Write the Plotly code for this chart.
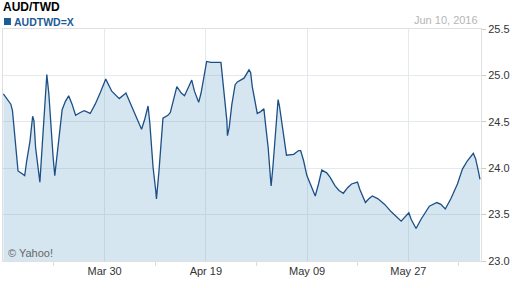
import plotly.graph_objects as go

# Trading-day position and AUD/TWD close values
day = [0.0, 0.58, 1.03, 1.26, 1.40, 1.72, 2.03, 2.40, 2.95, 3.23, 3.68, 4.05, 4.23, 4.46, 4.83,
       5.05, 5.24, 5.60, 5.83, 6.01, 6.29, 6.52, 6.89, 7.11, 7.44, 7.80, 8.13, 8.58, 9.03, 9.50,
       9.99, 10.64, 11.19, 12.01, 12.70, 13.38, 14.16, 14.99, 16.03, 16.95, 17.50, 18.42, 19.11,
       19.56, 20.01, 20.25, 20.70, 21.07, 21.17, 21.52, 21.85, 22.07, 22.76, 23.09, 23.44, 23.99,
       24.60, 25.05, 25.64, 26.05, 26.42, 27.01, 27.34, 27.70, 28.11, 28.71, 30.09, 30.31, 30.68,
       30.91, 30.99, 31.23, 31.60, 32.05, 32.36, 33.05, 33.28, 33.97, 34.20, 34.42, 34.79, 35.11,
       35.58, 36.03, 36.26, 36.62, 36.95, 37.03, 37.27, 37.54, 37.77, 37.99, 38.18, 38.54, 38.87,
       39.15, 40.15, 40.83, 41.11, 41.52, 41.97, 42.58, 43.13, 43.58, 44.03, 44.72, 45.19, 45.87,
       46.42, 47.01, 47.60, 48.15, 48.97, 49.30, 49.76, 50.07, 50.54, 51.03, 51.81, 52.73, 53.64,
       54.55, 55.01, 56.07, 56.39, 57.07, 57.76, 58.91, 59.95, 60.50, 61.11, 61.88, 62.79, 63.48,
       64.17, 64.99, 65.31, 65.68, 65.91]
rate = [24.80, 24.74, 24.69, 24.62, 24.51, 24.22, 23.97, 23.95, 23.92, 24.08, 24.29, 24.56, 24.51,
        24.22, 24.01, 23.85, 24.08, 24.58, 24.81, 25.01, 24.80, 24.51, 24.11, 23.92, 24.15, 24.40,
        24.63, 24.72, 24.78, 24.69, 24.57, 24.60, 24.62, 24.59, 24.69, 24.81, 24.96, 24.83, 24.75,
        24.81, 24.71, 24.53, 24.42, 24.53, 24.67, 24.49, 24.01, 23.76, 23.67, 23.97, 24.26, 24.54,
        24.57, 24.60, 24.71, 24.88, 24.81, 24.78, 24.88, 24.95, 24.83, 24.71, 24.81, 24.99, 25.15,
        25.14, 25.14, 24.97, 24.72, 24.51, 24.35, 24.44, 24.69, 24.90, 24.93, 24.96, 24.97, 25.06,
        25.03, 24.88, 24.72, 24.59, 24.61, 24.64, 24.47, 24.22, 23.88, 23.81, 24.01, 24.28, 24.49,
        24.74, 24.67, 24.47, 24.31, 24.14, 24.15, 24.19, 24.19, 24.08, 23.92, 23.81, 23.70, 23.83,
        23.98, 23.95, 23.90, 23.81, 23.76, 23.73, 23.79, 23.83, 23.85, 23.77, 23.68, 23.63, 23.67,
        23.70, 23.67, 23.61, 23.53, 23.47, 23.43, 23.52, 23.45, 23.35, 23.45, 23.59, 23.63, 23.61,
        23.56, 23.67, 23.83, 23.99, 24.08, 24.16, 24.10, 23.97, 23.88]

tick_pos = [14, 28, 42, 56]
tick_text = ["Mar 30", "Apr 19", "May 09", "May 27"]
y_ticks = [23.0, 23.5, 24.0, 24.5, 25.0, 25.5]

W, H = 512, 288
L, R, T, B = 2, 28.5, 28.5, 27
pw, ph = W - L - R, H - T - B

def px(x):
    return (x - L) / pw

def py(y):
    return (H - B - y) / ph

fig = go.Figure()
fig.add_trace(go.Scatter(
    x=day, y=rate, mode="lines",
    line=dict(color="#1c4f85", width=1.3),
    fill="tozeroy", fillcolor="rgba(97,159,201,0.26)",
    hoverinfo="skip", showlegend=False,
))

grid = "#e4e9ee"
fig.update_layout(
    width=W, height=H,
    margin=dict(l=L, r=R, t=T, b=B),
    paper_bgcolor="white", plot_bgcolor="white",
    font=dict(family="Liberation Sans, Arial, sans-serif", size=11, color="#333"),
    xaxis=dict(
        range=[-0.05, 66.05], tickvals=tick_pos, ticktext=tick_text,
        showgrid=True, gridcolor=grid, gridwidth=1,
        showline=True, linecolor="#e0e0e0", linewidth=1, mirror=True,
        ticks="", zeroline=False,
        minor=dict(tickvals=[7, 21, 35, 49, 63], ticks="outside", ticklen=4,
                   tickcolor="#dddddd", showgrid=False),
        tickfont=dict(size=11, color="#333"),
    ),
    yaxis=dict(
        range=[23.0, 25.5], tickvals=y_ticks, tickformat=".1f", side="right",
        showgrid=True, gridcolor=grid, gridwidth=1,
        showline=True, linecolor="#e0e0e0", linewidth=1, mirror=True,
        ticks="outside", ticklen=4, tickcolor="#cccccc", zeroline=False,
        tickfont=dict(size=11, color="#333"),
    ),
)

fig.add_annotation(text="<b>AUD/TWD</b>", xref="paper", yref="paper",
                   x=px(1), y=py(6), xanchor="left", yanchor="middle", showarrow=False,
                   font=dict(size=12, color="#000"), borderpad=0)
fig.add_annotation(text="<b>AUDTWD=X</b>", xref="paper", yref="paper",
                   x=px(12), y=py(21), xanchor="left", yanchor="middle", showarrow=False,
                   font=dict(size=10.5, color="#1d5a96"), borderpad=0)
fig.add_shape(type="rect", xref="paper", yref="paper",
              x0=px(3), x1=px(10), y0=py(17.5), y1=py(24.5),
              fillcolor="#1d5a96", line=dict(width=0))
fig.add_annotation(text="Jun 10, 2016", xref="paper", yref="paper",
                   x=px(482), y=py(19.5), xanchor="right", yanchor="middle", showarrow=False,
                   font=dict(size=11, color="#b5b5b5"))
fig.add_annotation(text="© Yahoo!", xref="paper", yref="paper",
                   x=px(5), y=py(253), xanchor="left", yanchor="middle", showarrow=False,
                   font=dict(size=11, color="#666"))

fig.write_html("out.html")
